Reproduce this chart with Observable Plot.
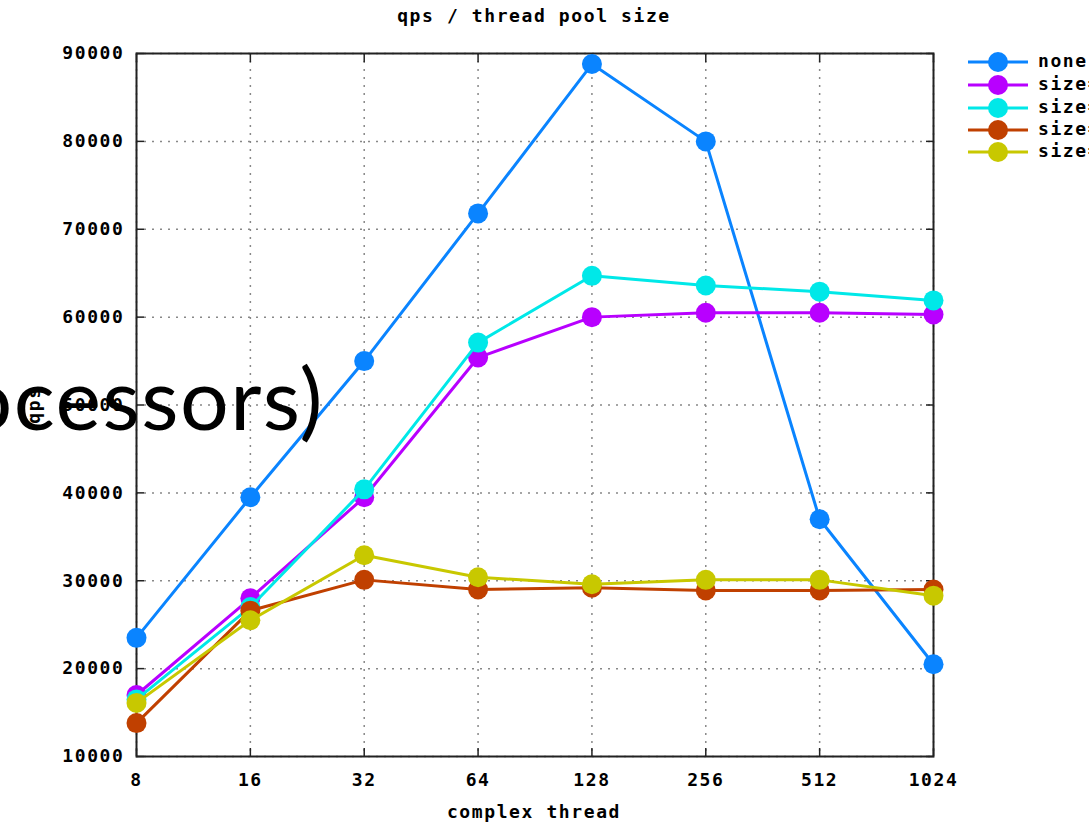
<!DOCTYPE html>
<html>
<head>
<meta charset="utf-8">
<script src="https://cdn.jsdelivr.net/npm/d3@7"></script>
<script src="https://cdn.jsdelivr.net/npm/@observablehq/plot@0.6"></script>
<style>
  html, body { margin: 0; padding: 0; background: #fff; overflow: hidden; }
  body { width: 1089px; height: 824px; position: relative; }
  .gp { font-family: "DejaVu Sans Mono", monospace; font-weight: bold; font-size: 18px; letter-spacing: 1.6px; color: #000; position: absolute; white-space: nowrap; }
  #chart { position: absolute; left: 0; top: 0; }
  #big { position: absolute; right: 765px; top: 354px; font-family: Lato, "Open Sans", sans-serif; font-size: 86px; letter-spacing: 1.5px; color: #000; white-space: nowrap; line-height: 1; }
</style>
</head>
<body>
<div id="chart"></div>
<div class="gp" id="title" style="left:0;width:1068px;text-align:center;top:5px;">qps / thread pool size</div>
<div class="gp" id="xlabel" style="left:0;width:1068px;text-align:center;top:801px;">complex thread</div>
<div class="gp" id="ylabel" style="left:33px;top:405px;transform:translate(-50%,-50%) rotate(-90deg);">qps</div>
<div id="legend"></div>
<div id="big">Processors)</div>
<script>
const threads = [8, 16, 32, 64, 128, 256, 512, 1024];
const seriesNames = ["none", "size=1x", "size=2x", "size=4x", "size=8x"];
const seriesColors = ["#0a84ff", "#b800ff", "#00e8e8", "#c04000", "#c8c800"];
const qpsNone = [23500, 39500, 55000, 71800, 88800, 80000, 37000, 20500];
const qpsSize1 = [17000, 28000, 39500, 55400, 60000, 60500, 60500, 60300];
const qpsSize2 = [16500, 27000, 40400, 57100, 64700, 63600, 62900, 61900];
const qpsSize3 = [13800, 26600, 30100, 29000, 29200, 28900, 28900, 29000];
const qpsSize4 = [16100, 25500, 32900, 30400, 29600, 30100, 30100, 28300];
const yTicks = [10000, 20000, 30000, 40000, 50000, 60000, 70000, 80000, 90000];

const seriesValues = [qpsNone, qpsSize1, qpsSize2, qpsSize3, qpsSize4];
const data = [];
seriesNames.forEach((name, i) => threads.forEach((t, j) => data.push({series: name, idx: i, x: t, y: seriesValues[i][j]})));

const fontStyle = {fontFamily: "DejaVu Sans Mono, monospace", fontWeight: "bold", fontSize: 18};
const tickOnly = {tickSize: -8, tickFormat: () => "", label: null, stroke: "#222", strokeWidth: 1.5};

const marks = [
  Plot.gridX(threads, {stroke: "#888", strokeOpacity: 1, strokeWidth: 1.5, strokeDasharray: "2,6"}),
  Plot.gridY(yTicks, {stroke: "#888", strokeOpacity: 1, strokeWidth: 1.5, strokeDasharray: "2,6"}),
  Plot.axisX(threads, {anchor: "bottom", ...tickOnly}),
  Plot.axisX(threads, {anchor: "top", ...tickOnly}),
  Plot.axisY(yTicks, {anchor: "left", ...tickOnly}),
  Plot.axisY(yTicks, {anchor: "right", ...tickOnly}),
  Plot.axisX(threads, {anchor: "bottom", tickSize: 0, tickPadding: 17, tickFormat: d => String(d), label: null, fill: "#000", ...fontStyle}),
  Plot.axisY(yTicks, {anchor: "left", tickSize: 0, tickPadding: 12, tickFormat: d => String(d), label: null, fill: "#000", ...fontStyle}),
  Plot.frame({stroke: "#222", strokeWidth: 2})
];
seriesNames.forEach((name, i) => {
  const d = data.filter(r => r.idx === i);
  marks.push(Plot.line(d, {x: "x", y: "y", stroke: seriesColors[i], strokeWidth: 3}));
  marks.push(Plot.dot(d, {x: "x", y: "y", r: 10, fill: seriesColors[i], stroke: "none"}));
});

const chart = Plot.plot({
  width: 1089,
  height: 824,
  marginLeft: 136,
  marginRight: 156,
  marginTop: 53,
  marginBottom: 68,
  x: {type: "log", base: 2, domain: [8, 1024], axis: null},
  y: {domain: [10000, 90000], axis: null},
  style: {background: "#fff", overflow: "visible", letterSpacing: "1.6px"},
  marks
});
document.getElementById("chart").appendChild(chart);

// legend
const legend = document.getElementById("legend");
const rowY = [62, 85, 108, 130, 152];
seriesNames.forEach((name, i) => {
  const sw = document.createElementNS("http://www.w3.org/2000/svg", "svg");
  sw.setAttribute("width", 64); sw.setAttribute("height", 24);
  sw.style.position = "absolute"; sw.style.left = "966px"; sw.style.top = (rowY[i] - 12) + "px"; sw.style.overflow = "visible";
  sw.innerHTML = `<line x1="2" x2="62" y1="12" y2="12" stroke="${seriesColors[i]}" stroke-width="3"/><circle cx="32" cy="12" r="10" fill="${seriesColors[i]}"/>`;
  legend.appendChild(sw);
  const t = document.createElement("div");
  t.className = "gp"; t.textContent = name;
  t.style.left = "1038px"; t.style.top = (rowY[i] - 12) + "px";
  legend.appendChild(t);
});
</script>
</body>
</html>
